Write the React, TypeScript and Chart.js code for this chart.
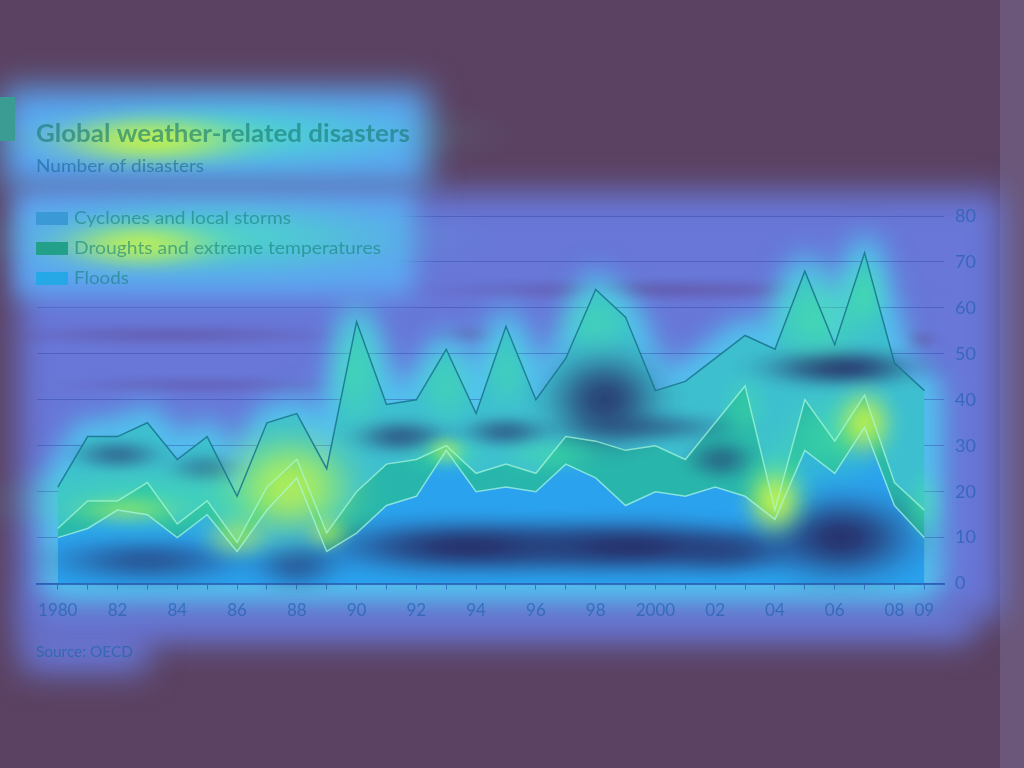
import React, { useEffect, useRef } from "react";
import { Chart, registerables } from "chart.js";

Chart.register(...registerables);

// ---------- data ----------
const years = [
  1980, 1981, 1982, 1983, 1984, 1985, 1986, 1987, 1988, 1989,
  1990, 1991, 1992, 1993, 1994, 1995, 1996, 1997, 1998, 1999,
  2000, 2001, 2002, 2003, 2004, 2005, 2006, 2007, 2008, 2009,
];
const floods = [10, 12, 16, 15, 10, 15, 7, 16, 23, 7, 11, 17, 19, 29, 20, 21, 20, 26, 23, 17, 20, 19, 21, 19, 14, 29, 24, 34, 17, 10];
const droughts = [2, 6, 2, 7, 3, 3, 2, 5, 4, 4, 9, 9, 8, 1, 4, 5, 4, 6, 8, 12, 10, 8, 14, 24, 2, 11, 7, 7, 5, 6];
const cyclones = [9, 14, 14, 13, 14, 14, 10, 14, 10, 14, 37, 13, 13, 21, 13, 30, 16, 17, 33, 29, 12, 17, 14, 11, 35, 28, 21, 31, 26, 26];

const titleText = "Global weather-related disasters";
const subtitleText = "Number of disasters";
const legendLabels = ["Cyclones and local storms", "Droughts and extreme temperatures", "Floods"];
const sourceText = "Source: OECD";

const xTickYears = [1980, 1982, 1984, 1986, 1988, 1990, 1992, 1994, 1996, 1998, 2000, 2002, 2004, 2006, 2008, 2009];
const xTickLabels = ["1980", "82", "84", "86", "88", "90", "92", "94", "96", "98", "2000", "02", "04", "06", "08", "09"];
const yMax = 80;
const yStep = 10;

// heat-map overlay spots, in data units: [year, value, radiusYears, radiusValue, alpha]
const coldSpots: number[][] = [
  [1983, 5, 2.0, 3.2, 0.6],
  [1988, 4, 0.9, 3.2, 0.55],
  [1993.7, 8, 2.9, 3.8, 0.95],
  [1999.2, 8, 2.9, 3.8, 0.95],
  [2002.5, 7, 1.3, 3.2, 0.6],
  [2006.2, 10, 1.6, 5.8, 0.95],
  [1991.5, 32, 1.0, 2.4, 0.6],
  [1995, 33, 0.9, 2.2, 0.55],
  [1998.3, 40, 1.2, 6.5, 0.85],
  [2006.2, 47, 1.6, 2.7, 0.85],
  [1982, 28, 0.9, 2.2, 0.5],
  [1985, 25, 0.8, 2.2, 0.4],
  [2002.2, 27, 0.7, 2.7, 0.5],
  [1999.8, 34, 1.7, 2.2, 0.45],
];
const greenSpots: number[][] = [
  [2005.4, 58, 1.0, 6, 0.55],
  [2007, 63, 0.5, 5, 0.5],
  [1990, 46, 0.6, 8, 0.45],
  [1993, 43, 0.6, 5, 0.4],
  [1995, 46, 0.5, 5, 0.35],
  [1998, 57, 0.8, 4.5, 0.4],
  [1983, 18, 2.8, 4.5, 0.45],
  [1996.5, 28, 1.0, 2.5, 0.4],
  [1993, 28, 0.8, 2.5, 0.45],
  [2003, 38, 0.5, 4.5, 0.35],
  [2009, 17, 0.4, 4.5, 0.4],
  [2006, 32, 1.1, 6, 0.5],
  [2004.2, 22, 0.8, 6, 0.45],
  [1987.5, 20, 1.6, 8, 0.45],
];
const hotSpots: number[][] = [
  [1987.8, 21, 1.3, 7, 0.8],
  [1986, 10, 0.7, 3, 0.5],
  [1982.3, 16, 1.1, 2.2, 0.4],
  [2004, 18, 0.6, 4.5, 0.85],
  [2007, 35, 0.6, 4.5, 0.8],
  [1989, 11, 0.45, 2.4, 0.45],
  [1993, 29, 0.4, 2, 0.45],
];

// ---------- styles ----------
const BG = "#5b4262";
const EDGE = "#6b5779";
const HALO = "#6877d8";
const FONT = "Lato, 'Open Sans', sans-serif";
const FILL_FLOODS = "#2aa2ee";
const FILL_DROUGHTS = "#28b6ac";
const FILL_CYCLONES = "#3dbfd0";
const SWATCHES = ["#3b9ad6", "#22a08a", "#27a8e6"];

function glow(ctx: CanvasRenderingContext2D, cx: number, cy: number, rx: number, ry: number, rgb: string, a: number) {
  if (!(rx > 0) || !(ry > 0)) return;
  const R = rx * 2.4;
  ctx.save();
  ctx.translate(cx, cy);
  ctx.scale(1, ry / rx);
  const g = ctx.createRadialGradient(0, 0, 0, 0, 0, R);
  const stops = [1, 0.92, 0.7, 0.42, 0.18, 0.05, 0];
  stops.forEach((k, i) => g.addColorStop(i / (stops.length - 1), `rgba(${rgb},${a * k})`));
  ctx.fillStyle = g;
  ctx.fillRect(-R, -R, 2 * R, 2 * R);
  ctx.restore();
}

function fitText(ctx: CanvasRenderingContext2D, text: string, x: number, y: number, font: string, color: string, width: number) {
  ctx.save();
  ctx.font = font;
  ctx.fillStyle = color;
  ctx.textBaseline = "alphabetic";
  ctx.textAlign = "left";
  const w = ctx.measureText(text).width;
  ctx.translate(x, y);
  ctx.scale(width / w, 1);
  ctx.fillText(text, 0, 0);
  ctx.restore();
}

const decorPlugin = {
  id: "decor",
  beforeDraw(chart: any) {
    const { ctx, width, height } = chart;
    const xs = chart.scales.x;
    const ys = chart.scales.y;
    ctx.save();
    ctx.fillStyle = BG;
    ctx.fillRect(0, 0, width, height);
    ctx.fillStyle = EDGE;
    ctx.fillRect(1000, 0, 24, height);
    ctx.filter = "blur(16px)";
    ctx.fillStyle = HALO;
    ctx.fillRect(18, 192, 985, 425);
    ctx.fillRect(22, 600, 950, 42);
    ctx.fillRect(22, 630, 125, 42);
    ctx.fillStyle = "#5aa6f4";
    ctx.fillRect(4, 88, 424, 100);
    ctx.filter = "none";
    ctx.restore();
    // purple streaks in the empty upper plot region
    glow(ctx, 650, 290, 130, 7, "95,75,150", 0.5);
    glow(ctx, 170, 335, 100, 7, "95,75,150", 0.45);
    glow(ctx, 200, 385, 80, 6, "95,75,150", 0.35);
    glow(ctx, 470, 335, 20, 6, "95,75,150", 0.4);
    glow(ctx, 920, 340, 11, 7, "95,75,150", 0.4);
    // light halo around the stacked data
    ctx.save();
    ctx.filter = "blur(14px)";
    ctx.strokeStyle = "rgba(80,200,240,0.9)";
    ctx.fillStyle = "rgba(80,200,240,0.9)";
    ctx.lineWidth = 34;
    ctx.lineJoin = "round";
    ctx.beginPath();
    ctx.moveTo(xs.getPixelForValue(years[0]), ys.getPixelForValue(0));
    years.forEach((y, i) => {
      ctx.lineTo(xs.getPixelForValue(y), ys.getPixelForValue(floods[i] + droughts[i] + cyclones[i]));
    });
    ctx.lineTo(xs.getPixelForValue(years[years.length - 1]), ys.getPixelForValue(0));
    ctx.closePath();
    ctx.fill();
    ctx.stroke();
    ctx.filter = "none";
    ctx.restore();
    // title glows
    glow(ctx, 235, 135, 120, 22, "70,225,200", 0.7);
    glow(ctx, 150, 140, 62, 16, "195,242,75", 0.9);
    // small element at the left edge
    ctx.fillStyle = "#3a9c92";
    ctx.fillRect(0, 97, 15, 44);
  },
  beforeDatasetsDraw(chart: any) {
    const { ctx } = chart;
    // legend backdrop covering gridlines
    ctx.save();
    ctx.filter = "blur(12px)";
    ctx.fillStyle = "#5ca6f0";
    ctx.fillRect(16, 194, 398, 102);
    ctx.filter = "none";
    ctx.restore();
    glow(ctx, 215, 238, 120, 24, "70,225,190", 0.7);
    glow(ctx, 140, 245, 50, 15, "195,242,80", 0.85);
  },
  beforeDatasetDraw(chart: any, args: any) {
    if (args.index !== chart.data.datasets.length - 1) return;
    const { ctx } = chart;
    const xs = chart.scales.x;
    const ys = chart.scales.y;
    const pxYear = Math.abs(xs.getPixelForValue(years[1]) - xs.getPixelForValue(years[0]));
    const pxVal = Math.abs(ys.getPixelForValue(0) - ys.getPixelForValue(yStep)) / yStep;
    const draw = (list: number[][], rgb: string) => {
      for (const s of list) {
        glow(ctx, xs.getPixelForValue(s[0]), ys.getPixelForValue(s[1]), s[2] * pxYear, s[3] * pxVal, rgb, s[4]);
      }
    };
    draw(coldSpots, "38,46,104");
    draw(greenSpots, "70,230,160");
    draw(hotSpots, "200,245,70");
  },
  afterDraw(chart: any) {
    const { ctx } = chart;
    fitText(ctx, titleText, 36, 142, `bold 24px ${FONT}`, "rgba(20,120,110,0.6)", 374);
    fitText(ctx, subtitleText, 36, 172, `17px ${FONT}`, "rgba(20,100,150,0.6)", 168);
    const rows = [224, 254, 284];
    legendLabels.forEach((lab, i) => {
      ctx.fillStyle = SWATCHES[i];
      ctx.fillRect(36, rows[i] - 12, 32, 13);
      fitText(ctx, lab, 74, rows[i], `18px ${FONT}`, "rgba(20,130,120,0.6)", [217, 307, 55][i]);
    });
    fitText(ctx, sourceText, 36, 657, `15px ${FONT}`, "rgba(20,100,160,0.6)", 97);
  },
};

export default function App() {
  const ref = useRef<HTMLCanvasElement>(null);
  useEffect(() => {
    if (!ref.current) return;
    const mk = (vals: number[]) => years.map((y, i) => ({ x: y, y: vals[i] }));
    const chart = new Chart(ref.current, {
      type: "line",
      data: {
        datasets: [
          {
            label: legendLabels[2],
            data: mk(floods),
            fill: "origin",
            backgroundColor: FILL_FLOODS,
            borderColor: "rgba(170,250,225,0.7)",
            borderWidth: 1.5,
            pointRadius: 0,
            tension: 0,
          },
          {
            label: legendLabels[1],
            data: mk(droughts),
            fill: "-1",
            backgroundColor: FILL_DROUGHTS,
            borderColor: "rgba(170,250,215,0.7)",
            borderWidth: 1.5,
            pointRadius: 0,
            tension: 0,
          },
          {
            label: legendLabels[0],
            data: mk(cyclones),
            fill: "-1",
            backgroundColor: FILL_CYCLONES,
            borderColor: "rgba(25,115,140,0.85)",
            borderWidth: 1.5,
            pointRadius: 0,
            tension: 0,
          },
        ],
      },
      options: {
        responsive: false,
        animation: false,
        devicePixelRatio: 1,
        layout: { padding: { top: 216, right: 37, bottom: 136, left: 37 } },
        plugins: {
          legend: { display: false },
          title: { display: false },
          tooltip: { enabled: false },
          filler: { drawTime: "beforeDatasetsDraw" },
        },
        scales: {
          x: {
            type: "linear",
            min: years[0] - 21 / 30.24,
            max: years[years.length - 1] + 20 / 30.24,
            afterBuildTicks: (axis: any) => {
              axis.ticks = years.map((v) => ({ value: v }));
            },
            ticks: {
              autoSkip: false,
              maxRotation: 0,
              padding: 11,
              color: "rgba(30,95,175,0.65)",
              font: { family: FONT, size: 17 },
              callback: (v: any) => {
                const i = xTickYears.indexOf(Number(v));
                return i >= 0 ? xTickLabels[i] : "";
              },
            },
            grid: {
              drawOnChartArea: false,
              drawTicks: true,
              tickLength: 6,
              tickColor: "rgba(40,90,180,0.7)",
            },
            border: { display: true, color: "rgba(40,90,180,0.8)", width: 2 },
          },
          y: {
            position: "right",
            stacked: true,
            min: 0,
            max: yMax,
            ticks: {
              stepSize: yStep,
              padding: 11,
              color: "rgba(30,95,175,0.65)",
              font: { family: FONT, size: 18 },
            },
            grid: { drawTicks: false, color: "rgba(45,70,170,0.42)", lineWidth: 1 },
            border: { display: false },
          },
        },
      },
      plugins: [decorPlugin],
    } as any);
    return () => chart.destroy();
  }, []);
  return (
    <div style={{ position: "fixed", left: 0, top: 0, width: 1024, height: 768, background: BG }}>
      <canvas ref={ref} width={1024} height={768} />
    </div>
  );
}
